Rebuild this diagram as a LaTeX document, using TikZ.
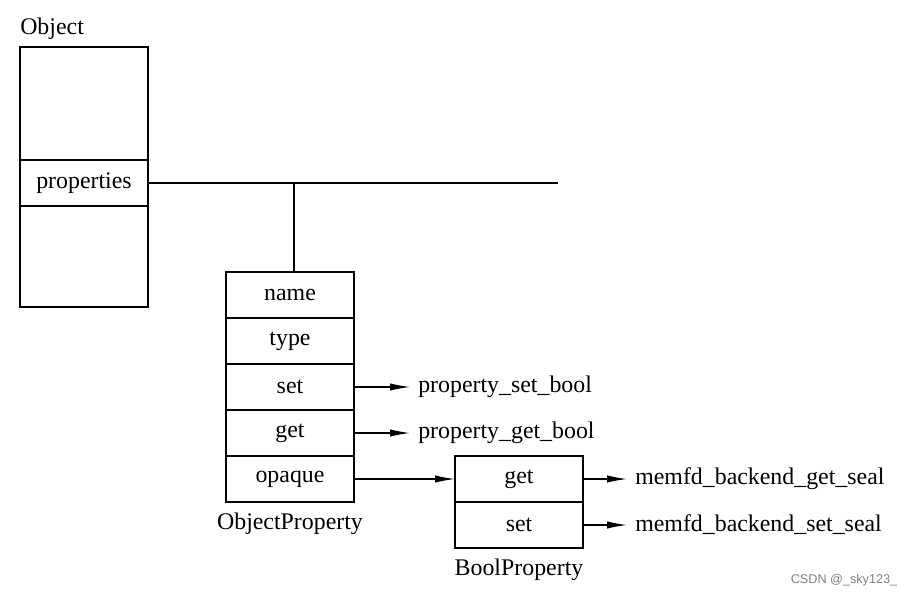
\documentclass[tikz,border=0pt]{standalone}
\usepackage{fontspec}
\setmainfont{Liberation Serif}
\newfontfamily\wmfont{Liberation Sans}
\usetikzlibrary{positioning,arrows.meta}
\begin{document}
\begin{tikzpicture}[x=0.75pt,y=-0.75pt]
    \tikzset{>={Latex[length=15pt,width=5.5pt]}}
    \tikzset{cell/.style={draw,line width=1.4pt,minimum width=96pt,minimum height=34.5pt,inner sep=0pt,outer sep=0pt,font=\fontsize{17.9}{20}\selectfont}}
    \tikzset{lbl/.style={inner sep=0pt,font=\fontsize{17.9}{20}\selectfont}}
    \tikzset{link/.style={line width=0.9pt}}
    \useasboundingbox (0,0) rectangle (913,596);
    % Object
    \node[cell,minimum height=84.75pt,anchor=north west] (objtop) at (20,47) {};
    \node[cell,below=0pt of objtop] (props) {properties};
    \node[cell,minimum height=75.75pt,below=0pt of props] (objbot) {};
    \node[lbl,anchor=base west] (objlbl) at (20,34) {Object};
    % ObjectProperty
    \node[cell,anchor=north west] (pname) at (226,272) {name};
    \node[cell,below=0pt of pname] (ptype) {type};
    \node[cell,below=0pt of ptype] (pset) {set};
    \node[cell,below=0pt of pset] (pget) {get};
    \node[cell,below=0pt of pget] (popaque) {opaque};
    \node[lbl,below=8pt of popaque] (oplbl) {ObjectProperty};
    \node[lbl,right=48pt of pset] (setfn) {property\_set\_bool};
    \node[lbl,right=48pt of pget] (getfn) {property\_get\_bool};
    % BoolProperty
    \node[cell,anchor=north west] (bget) at (455,456) {get};
    \node[cell,below=0pt of bget] (bset) {set};
    \node[lbl,below=8pt of bset] (bplbl) {BoolProperty};
    \node[lbl,right=39pt of bget] (getseal) {memfd\_backend\_get\_seal};
    \node[lbl,right=39pt of bset] (setseal) {memfd\_backend\_set\_seal};
    % links
    \coordinate (pend) at (558,183);
    \coordinate (tap) at (294,183);
    \draw[link] (props.east) -- (pend);
    \draw[link] (tap) -- (tap |- pname.north);
    \draw[link,->,shorten >=6pt] (pset.east) -- (setfn.west);
    \draw[link,->,shorten >=6pt] (pget.east) -- (getfn.west);
    \draw[link,->] (popaque.east) -- (bget.west);
    \draw[link,->,shorten >=6pt] (bget.east) -- (getseal.west);
    \draw[link,->,shorten >=6pt] (bset.east) -- (setseal.west);
    \node[inner sep=0pt,text=gray,font=\wmfont\fontsize{9.5}{11}\selectfont] (mark) at (844,580) {CSDN @\_sky123\_};
\end{tikzpicture}
\end{document}
